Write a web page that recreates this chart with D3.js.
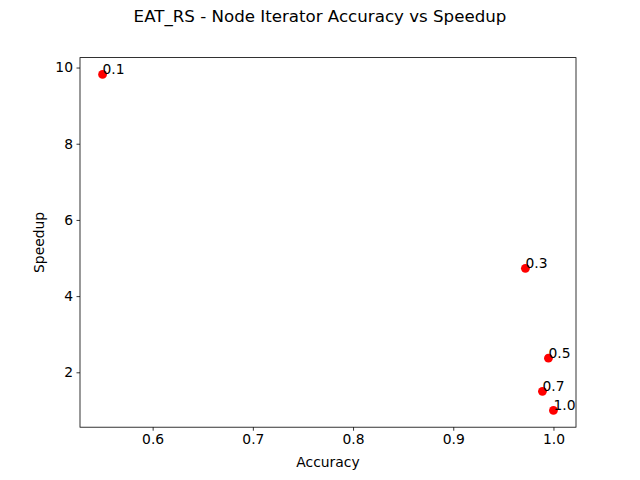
<!DOCTYPE html>
<html lang="en">
<head>
  <meta charset="UTF-8">
  <title>EAT_RS - Node Iterator Accuracy vs Speedup</title>
  <style>
    body { margin: 0; background: #fff; }
    svg { display: block; font-family: "DejaVu Sans", sans-serif; }
  </style>
  <script src="https://d3js.org/d3.v7.min.js"></script>
</head>
<body>
  <div id="chart"></div>
  <script>
    // Data
    const labels = ['0.1', '0.3', '0.5', '0.7', '1.0'];
    const accuracy = [0.550, 0.972, 0.995, 0.989, 1.000];
    const speedup = [9.82, 4.73, 2.37, 1.50, 1.00];
    const xTicks = [0.6, 0.7, 0.8, 0.9, 1.0];
    const yTicks = [2, 4, 6, 8, 10];

    const width = 640;
    const height = 480;
    const margin = { top: 57.6, right: 64, bottom: 52.8, left: 80 };
    const fontSize = '13.89px';

    const svg = d3.select('#chart')
      .append('svg')
      .attr('width', width)
      .attr('height', height);

    // matplotlib style 5% padding around the data
    const xExt = d3.extent(accuracy);
    const yExt = d3.extent(speedup);
    const xPad = (xExt[1] - xExt[0]) * 0.05;
    const yPad = (yExt[1] - yExt[0]) * 0.05;

    const x = d3.scaleLinear()
      .domain([xExt[0] - xPad, xExt[1] + xPad])
      .range([margin.left, width - margin.right]);

    const y = d3.scaleLinear()
      .domain([yExt[0] - yPad, yExt[1] + yPad])
      .range([height - margin.bottom, margin.top]);

    // Axes
    const xAxis = svg.append('g')
      .attr('transform', `translate(0, ${height - margin.bottom})`)
      .call(d3.axisBottom(x).tickValues(xTicks).tickFormat(d3.format('.1f')).tickSize(3.5).tickPadding(3.5));

    const yAxis = svg.append('g')
      .attr('transform', `translate(${margin.left}, 0)`)
      .call(d3.axisLeft(y).tickValues(yTicks).tickFormat(d3.format('d')).tickSize(3.5).tickPadding(3.5));

    [xAxis, yAxis].forEach(g => {
      g.select('.domain').remove();
      g.selectAll('line').attr('stroke', '#000').attr('stroke-width', 0.8);
      g.selectAll('text')
        .attr('fill', '#000')
        .style('font-size', fontSize)
        .style('font-family', '"DejaVu Sans", sans-serif');
    });

    // Frame
    svg.append('rect')
      .attr('x', margin.left)
      .attr('y', margin.top)
      .attr('width', width - margin.left - margin.right)
      .attr('height', height - margin.top - margin.bottom)
      .attr('fill', 'none')
      .attr('stroke', '#000')
      .attr('stroke-width', 0.8);

    // Points
    const pts = labels.map((l, i) => ({ label: l, acc: accuracy[i], sp: speedup[i] }));

    svg.append('g')
      .selectAll('circle')
      .data(pts)
      .enter()
      .append('circle')
      .attr('cx', d => x(d.acc))
      .attr('cy', d => y(d.sp))
      .attr('r', 4.4)
      .attr('fill', 'red');

    svg.append('g')
      .selectAll('text')
      .data(pts)
      .enter()
      .append('text')
      .attr('x', d => x(d.acc))
      .attr('y', d => y(d.sp))
      .style('font-size', fontSize)
      .text(d => d.label);

    // Titles
    svg.append('text')
      .attr('x', width / 2)
      .attr('y', 22)
      .attr('text-anchor', 'middle')
      .style('font-size', '16.67px')
      .text('EAT_RS - Node Iterator Accuracy vs Speedup');

    svg.append('text')
      .attr('x', (margin.left + width - margin.right) / 2)
      .attr('y', 467)
      .attr('text-anchor', 'middle')
      .style('font-size', fontSize)
      .text('Accuracy');

    svg.append('text')
      .attr('transform', `translate(44, ${(margin.top + height - margin.bottom) / 2}) rotate(-90)`)
      .attr('text-anchor', 'middle')
      .style('font-size', fontSize)
      .text('Speedup');
  </script>
</body>
</html>
